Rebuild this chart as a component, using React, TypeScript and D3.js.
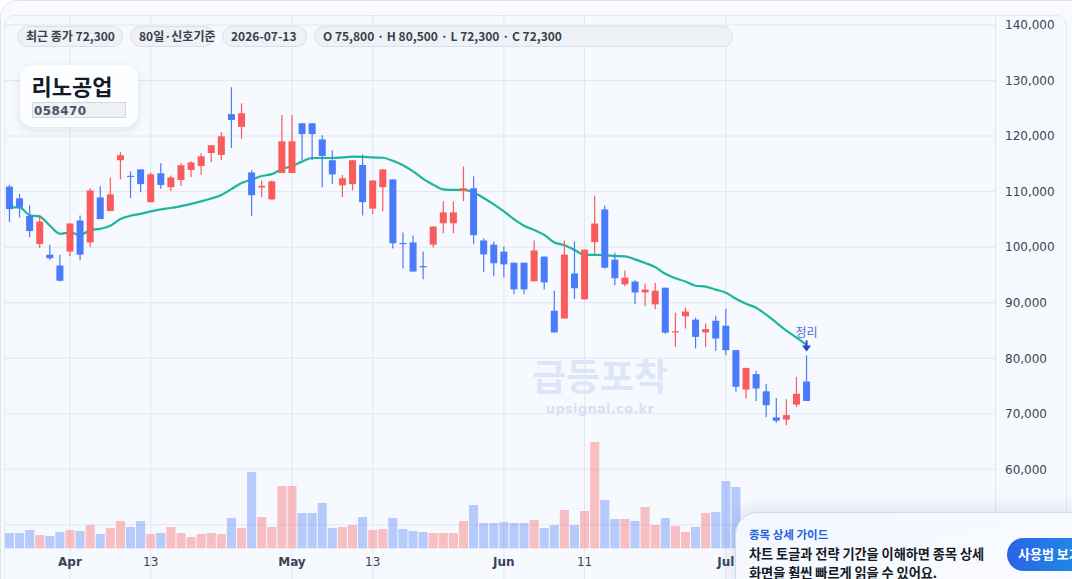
import React from "react";
import * as d3 from "d3";

// ---- data ----
const opens = [110900,108800,105600,100550,98650,96700,99200,104800,100850,108950,106500,115650,112850,114000,108100,113300,110800,112100,113900,114600,116950,116600,123950,121650,113450,110750,108600,113350,113350,122300,122300,119400,115650,111150,111350,114800,106950,110800,112200,100750,100850,96600,100450,104300,104300,110100,110600,101200,100450,99200,97200,97200,93850,98300,88550,87150,95250,90600,100900,106800,97750,93300,93800,91850,89700,92700,84650,87550,86950,84650,86750,85850,81450,74350,77150,74050,69350,68950,71650,75800];
const highs = [111250,109600,107500,105800,100450,98650,104300,105700,110600,110950,112550,117100,113650,114000,113450,115100,112900,115100,115450,116900,118350,120700,128800,125900,113850,112000,112000,123800,123800,122300,122300,120150,117450,113000,115650,116700,112000,114000,112200,102650,102100,99200,103700,108250,108250,114550,112750,101550,101000,100100,97200,97200,101200,98300,92150,101200,101000,99550,109300,107500,99000,95800,94150,93450,93600,92700,88200,89100,87300,86250,87650,88900,81450,78300,77750,75400,72850,72600,76650,80500];
const lows = [104500,105350,101800,99800,97650,93800,98350,97650,100000,105050,106500,112200,108850,109900,108100,110450,110100,111000,112600,113000,115350,115650,117850,119500,105600,109000,108450,113350,113350,115700,115700,110800,111350,109000,110200,105700,105950,106450,99750,96150,95600,94200,99950,102500,102500,108300,100550,95500,94750,94550,91500,91500,93850,92400,84600,87150,90700,90600,98700,96150,93150,92950,89700,89350,88800,84400,82050,85350,81750,82050,81300,80550,73950,72750,72300,69400,68400,67950,71200,72300];
const closes = [106850,107150,102900,104600,98000,93950,104250,98650,110200,105050,109500,116550,112750,111350,113100,111200,112550,114750,115250,116350,118350,119950,122900,124100,109350,111050,111850,119050,119050,120350,120350,116400,113100,112400,115650,108100,112000,114000,100700,100650,95600,96400,103700,106250,106250,110600,102150,98700,97100,96900,92400,92400,99400,93650,84650,98650,92600,99550,104250,96300,94400,94500,91850,92350,92150,84600,84850,88400,83850,85250,83550,81450,74850,78250,74550,71550,68750,69750,73600,72300];
const volumes = [153,153,183,133,123,163,183,173,233,143,203,273,213,273,143,153,213,153,113,143,153,143,303,203,763,313,213,623,623,353,353,453,203,213,233,313,183,193,303,193,173,163,153,153,153,273,433,253,253,263,253,253,283,203,233,383,233,373,1063,483,293,293,273,413,233,303,223,163,213,353,363,673,613,260,220,240,200,210,250,300];
const maLine = [107150,107150,105750,105500,103900,102400,102650,102200,103050,103300,103850,105050,105650,106000,106450,106800,107050,107400,107800,108250,108750,109400,110450,111550,112150,112800,113150,114050,114600,115400,116050,116050,116050,116150,116300,116250,116150,116100,115550,114750,113650,112300,111250,110400,110300,110300,109850,108850,107700,106450,105050,103850,103100,102200,100850,100350,99500,98600,98600,98550,98400,98350,97800,97150,96400,95200,94400,93800,93050,92900,92350,91800,90700,89800,89100,87850,86400,84950,83700,82400];
const priceTicks = [60000,70000,80000,90000,100000,110000,120000,130000,140000];
const tickIndex = [6,14,28,36,49,57,71];
const tickLabels = ["Apr","13","May","13","Jun","11","Jul"];
const tickBold = [true,false,true,false,true,false,true];
const pills = ["최근 종가 72,300","80일·신호기준","2026-07-13","O 75,800 · H 80,500 · L 72,300 · C 72,300"];
const stockName = "리노공업";
const stockCode = "058470";
const signalLabel = "정리";
const signalIndex = 79;

const W = 1072, H = 579;
const KR = "'Noto Sans CJK KR','Noto Sans',sans-serif";
const AX = "'DejaVu Sans',sans-serif";
const UP = "#fa5b5b", DOWN = "#4a7bfa";

export default function App() {
  const idx = d3.range(opens.length);
  const x = d3.scaleBand<number>().domain(idx).range([4.4, 4.4 + 10.09 * idx.length]).padding(0);
  const bw = x.bandwidth();
  const xc = (i: number) => (x(i) as number) + bw / 2;
  const y = d3.scaleLinear().domain([60000, 140000]).range([469.3, 25]);
  const yv = d3.scaleLinear().domain([0, 1100]).range([548.3, 438.3]);
  const maPath = d3.line<number>().x((_, i) => xc(i)).y((d) => y(d)).curve(d3.curveMonotoneX)(maLine) || "";
  const pillX = [[17, 122], [130, 214], [222, 306], [314, 732]];

  return (
    <svg width={W} height={H} style={{ position: "fixed", left: 0, top: 0, background: "#ffffff" }}>
      <defs>
        <filter id="cardShadow" x="-30%" y="-30%" width="160%" height="170%">
          <feDropShadow dx="0" dy="3" stdDeviation="5" floodColor="#1b2a55" floodOpacity="0.10" />
        </filter>
        <filter id="popShadow" x="-20%" y="-40%" width="140%" height="200%">
          <feDropShadow dx="0" dy="-2" stdDeviation="8" floodColor="#2a3a70" floodOpacity="0.14" />
        </filter>
        <linearGradient id="popFill" x1="0" y1="0" x2="1" y2="1">
          <stop offset="0" stopColor="#f3f7ff" />
          <stop offset="1" stopColor="#fbfcff" />
        </linearGradient>
        <linearGradient id="btnFill" x1="0" y1="0" x2="1" y2="0">
          <stop offset="0" stopColor="#2b62e6" />
          <stop offset="1" stopColor="#1aa0e6" />
        </linearGradient>
        <clipPath id="plotClip"><rect x={5} y={15} width={990} height={H} /></clipPath>
      </defs>

      {/* card + panel */}
      <rect x={0.5} y={0.5} width={W + 20} height={H + 40} rx={16} fill="#f8fafd" stroke="#dfe4ec" />
      <rect x={4.5} y={15.5} width={1062} height={H + 20} rx={10} fill="#f6f9fe" stroke="#e3e8f0" />

      {/* grid */}
      <g clipPath="url(#plotClip)">
        {[...priceTicks, 50000].map((t) => (
          <line key={"h" + t} x1={5} x2={995} y1={y(t)} y2={y(t)} stroke="#e3e7ee" strokeWidth={1} />
        ))}
        {tickIndex.map((ti) => (
          <line key={"v" + ti} x1={xc(ti)} x2={xc(ti)} y1={15} y2={H} stroke="#e3e7ee" strokeWidth={1} />
        ))}
      </g>
      <line x1={995.5} x2={995.5} y1={15} y2={H} stroke="#e3e7ee" />

      {/* watermark */}
      <text x={600} y={391} textAnchor="middle" fontFamily={KR} fontWeight={700} fontSize={37} fill="#dde6f8">급등포착</text>
      <text x={600} y={413} textAnchor="middle" fontFamily={AX} fontWeight={700} fontSize={13} fill="#d6e0f5" letterSpacing={0.3}>upsignal.co.kr</text>

      {/* volume */}
      {idx.map((i) => (
        <rect key={"vol" + i} x={(x(i) as number) + 0.5} width={bw - 1} y={yv(volumes[i])} height={yv(0) - yv(volumes[i])}
          fill={closes[i] >= opens[i] ? UP : DOWN} fillOpacity={0.37} />
      ))}

      {/* MA */}
      <path d={maPath} fill="none" stroke="#1db59b" strokeWidth={2.2} />

      {/* candles */}
      {idx.map((i) => {
        const up = closes[i] >= opens[i];
        const col = up ? UP : DOWN;
        const top = y(Math.max(opens[i], closes[i]));
        const bot = y(Math.min(opens[i], closes[i]));
        return (
          <g key={"c" + i}>
            <line x1={xc(i)} x2={xc(i)} y1={y(highs[i])} y2={y(lows[i])} stroke={col} strokeWidth={1.2} />
            <rect x={xc(i) - 3.5} width={7} y={top} height={Math.max(1.2, bot - top)} fill={col} />
          </g>
        );
      })}

      {/* signal marker */}
      <g>
        <text x={xc(signalIndex)} y={337} textAnchor="middle" fontFamily={KR} fontSize={12} fill="#4f6fd6">{signalLabel}</text>
        <rect x={xc(signalIndex) - 1} y={y(highs[signalIndex]) - 15} width={2} height={6} fill="#2148c9" />
        <path d={`M${xc(signalIndex) - 4.5},${y(highs[signalIndex]) - 10} L${xc(signalIndex) + 4.5},${y(highs[signalIndex]) - 10} L${xc(signalIndex)},${y(highs[signalIndex]) - 4} Z`} fill="#2148c9" />
      </g>

      {/* price axis labels */}
      {priceTicks.map((t) => (
        <text key={"pl" + t} x={1005} y={y(t)} dy="0.36em" fontFamily={AX} fontSize={12} fill="#3d4454">{d3.format(",")(t)}</text>
      ))}

      {/* x axis labels */}
      {tickIndex.map((ti, k) => (
        <text key={"xl" + ti} x={xc(ti)} y={566} textAnchor="middle" fontFamily={AX} fontSize={12}
          fontWeight={tickBold[k] ? 700 : 400} fill="#3a4256">{tickLabels[k]}</text>
      ))}

      {/* pills */}
      {pills.map((p, k) => (
        <g key={"p" + k}>
          <rect x={pillX[k][0] + 0.5} y={26.5} width={pillX[k][1] - pillX[k][0]} height={20} rx={10} fill="#eef1f6" stroke="#d9dee7" />
          <text x={pillX[k][0] + 9} y={40.8} fontFamily={KR} fontWeight={700} fontSize={12} fill="#3a404c">{p}</text>
        </g>
      ))}

      {/* title card */}
      <rect x={20} y={65} width={118} height={62} rx={14} fill="#fdfeff" filter="url(#cardShadow)" />
      <text x={31.5} y={95} fontFamily={KR} fontWeight={700} fontSize={22} fill="#141a28">{stockName}</text>
      <rect x={32.5} y={102.5} width={93} height={15} fill="#eef0f4" stroke="#d3d8e0" />
      <text x={34} y={114.5} fontFamily={AX} fontWeight={700} fontSize={12} fill="#4a5466" letterSpacing={0.4}>{stockCode}</text>

      {/* guide popup */}
      <rect x={735.5} y={512.5} width={360} height={100} rx={22} fill="url(#popFill)" stroke="#cddaf4" filter="url(#popShadow)" />
      <text x={749} y={539} fontFamily={KR} fontWeight={700} fontSize={11.5} fill="#2563e0">종목 상세 가이드</text>
      <text x={749} y={558.5} fontFamily={KR} fontWeight={700} fontSize={13.2} fill="#151a24" letterSpacing={-0.05}>차트 토글과 전략 기간을 이해하면 종목 상세</text>
      <text x={749} y={578} fontFamily={KR} fontWeight={700} fontSize={13.2} fill="#151a24" letterSpacing={-0.05}>화면을 훨씬 빠르게 읽을 수 있어요.</text>
      <rect x={1007} y={538} width={110} height={33} rx={16.5} fill="url(#btnFill)" />
      <text x={1018} y={559} fontFamily={KR} fontWeight={700} fontSize={13} fill="#ffffff">사용법 보기</text>
    </svg>
  );
}
